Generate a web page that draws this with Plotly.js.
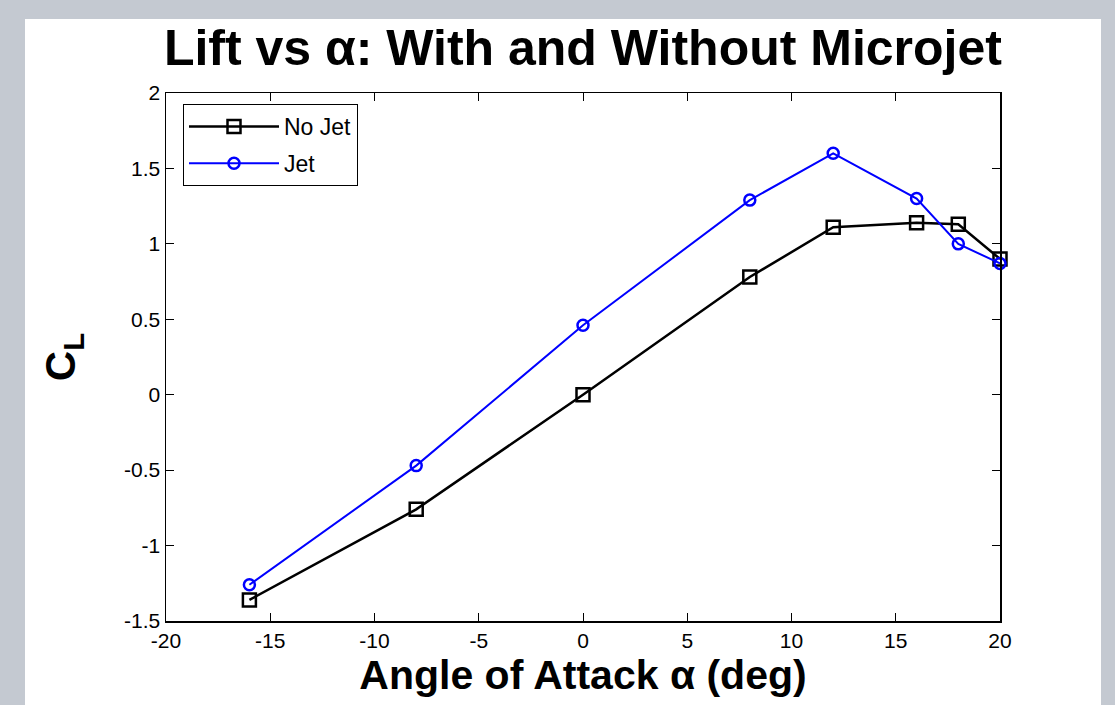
<!DOCTYPE html>
<html>
<head>
<meta charset="utf-8">
<script src="https://cdn.plot.ly/plotly-3.0.1.min.js"></script>
<style>html,body{margin:0;padding:0;background:#c4c9d1;} #chart{width:1115px;height:705px;}</style>
</head>
<body>
<div id="chart"></div>
<script>
var alpha = [-16, -8, 0, 8, 12, 16, 18, 20];
var noJetCL = [-1.36, -0.76, 0.0, 0.78, 1.11, 1.14, 1.13, 0.90];
var jetCL = [-1.26, -0.47, 0.46, 1.29, 1.60, 1.30, 1.00, 0.87];
var seriesNames = ["No Jet", "Jet"];
var xTickVals = [-20, -15, -10, -5, 0, 5, 10, 15, 20];
var xTickText = ["-20", "-15", "-10", "-5", "0", "5", "10", "15", "20"];
var yTickVals = [-1.5, -1, -0.5, 0, 0.5, 1, 1.5, 2];
var yTickText = ["-1.5", "-1", "-0.5", "0", "0.5", "1", "1.5", "2"];

var font = "Liberation Sans, Arial, Helvetica, sans-serif";

var traces = [
  {
    x: alpha, y: noJetCL, name: seriesNames[0], type: "scatter", mode: "lines+markers",
    legendgroup: "a", cliponaxis: false,
    line: {color: "#000000", width: 2.5},
    marker: {symbol: "square-open", size: 13, color: "#000000", line: {width: 2.5, color: "#000000"}}
  },
  {
    x: alpha, y: jetCL, name: seriesNames[1], type: "scatter", mode: "lines+markers",
    legendgroup: "b", cliponaxis: false,
    line: {color: "#0000ff", width: 2},
    marker: {symbol: "circle-open", size: 11, color: "#0000ff", line: {width: 2.5, color: "#0000ff"}}
  }
];

var layout = {
  width: 1115, height: 705,
  paper_bgcolor: "#c4c9d1",
  plot_bgcolor: "#ffffff",
  margin: {l: 166, r: 115, t: 93, b: 84},
  showlegend: true,
  font: {family: font, color: "#000000"},
  title: {
    text: "<b>Lift vs α: With and Without Microjet</b>",
    font: {family: font, size: 50, color: "#000000"},
    x: 0.5228, xref: "container", xanchor: "center",
    y: 1 - 47 / 705, yref: "container", yanchor: "middle"
  },
  xaxis: {
    range: [-20, 20], tickmode: "array", tickvals: xTickVals, ticktext: xTickText,
    ticks: "inside", ticklen: 8, tickwidth: 1, tickcolor: "#000000",
    showline: true, linecolor: "#000000", linewidth: 1.5, mirror: "ticks",
    showgrid: false, zeroline: false,
    tickfont: {family: font, size: 21, color: "#000000"},
    title: {text: "<b>Angle of Attack α (deg)</b>", font: {family: font, size: 41, color: "#000000"}, standoff: 8},
    automargin: false
  },
  yaxis: {
    range: [-1.5, 2], tickmode: "array", tickvals: yTickVals, ticktext: yTickText,
    ticks: "inside", ticklen: 8, tickwidth: 1, tickcolor: "#000000",
    showline: true, linecolor: "#000000", linewidth: 1.5, mirror: "ticks",
    showgrid: false, zeroline: false,
    tickfont: {family: font, size: 21, color: "#000000"},
    title: {text: "<b>C<sub>L</sub></b>", font: {family: font, size: 42, color: "#000000"}, standoff: 35},
    automargin: false
  },
  legend: {
    x: 17 / 834, y: 1 - 11 / 528, xanchor: "left", yanchor: "top",
    bgcolor: "#ffffff", bordercolor: "#000000", borderwidth: 1,
    font: {family: font, size: 23, color: "#000000"},
    itemwidth: 90, traceorder: "grouped", tracegroupgap: 4
  },
  shapes: [
    {type: "rect", xref: "paper", yref: "paper", layer: "below",
     x0: (25 - 166) / 834, x1: (1101 - 166) / 834,
     y0: (621 - 720) / 528, y1: (621 - 19) / 528,
     fillcolor: "#ffffff", line: {width: 0}}
  ]
};

Plotly.newPlot("chart", traces, layout, {displayModeBar: false, staticPlot: true});
</script>
</body>
</html>
